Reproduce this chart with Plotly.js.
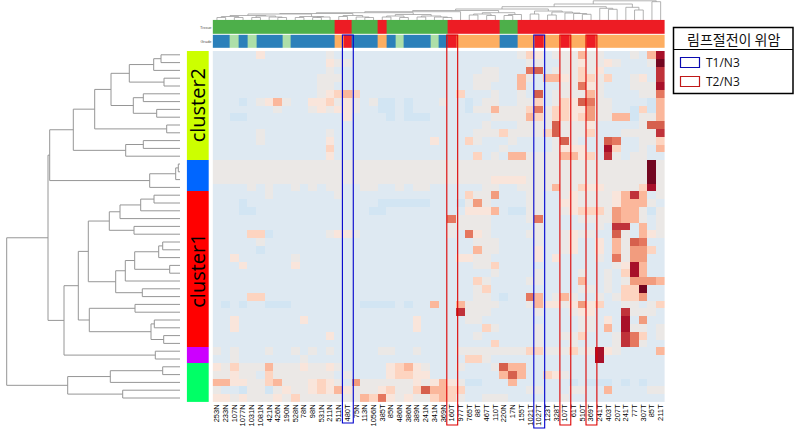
<!DOCTYPE html>
<html>
<head>
<meta charset="utf-8">
<script src="https://cdn.plot.ly/plotly-3.0.1.min.js"></script>
<style>html,body{margin:0;padding:0;background:#fff;overflow:hidden}</style>
</head>
<body>
<div id="chart" style="width:794px;height:430px"></div>
<script>
// Column (sample) labels
const sampleLabels = ["253N","233N","107N","1077N","1031N","1081N","421N","426N","190N","528N",
"78N","98N","531N","211N","511N","480T","75N","113N","1056N","385T",
"85N","486N","386N","389N","241N","341N","369N","160T","977T","765T",
"88T","467T","110T","220N","17N","155T","1021T","1027T","123T","328T",
"107T","61T","510T","369T","241T","403T","207T","241T","77T","307T","85T","211T"];

// Tissue / Grade annotation: 0 green, 1 red, 2 blue, 3 pale green, 4 orange
const tissueRow = [0,0,0,0,0,0,0,0,0,0, 0,0,0,0,1,1,0,0,0,1, 0,0,0,0,0,0,0,1,1,1, 1,1,1,0,0,1,1,1,1,1, 1,1,1,1,1,1,1,1,1,1, 1,1];
const gradeRow  = [2,2,3,2,3,2,2,2,3,2, 2,2,2,2,4,1,2,2,2,4, 2,3,2,2,2,3,2,1,4,4, 4,4,4,2,2,4,4,1,4,4, 1,4,4,1,4,4,4,4,4,4, 4,4];
const annotationLabels = ["Tissue","Grade"];
const annotationColors = ["#4daf4a","#ed1c24","#2b80ba","#addfa8","#fdae61"];

// Cluster side bar: 0 yellow, 1 blue, 2 red, 3 magenta, 4 green
const clusterIds = [0,0,0,0,0,0,0,0,0,0,0,0,0,0, 1,1,1,1,
 2,2,2,2,2,2,2,2,2,2,2,2,2,2,2,2,2,2,2,2, 3,3, 4,4,4,4,4];
const clusterColors = ["#ccff00","#0066ff","#ff0000","#cc00ff","#00ff66"];

// Heatmap levels, -2 (blue) .. 9 (dark red), one row per gene
const heatValues = [
[-1,-1,-1,-1,-1,1,-1,-1,-1,-1, -1,-1,-1,0,-1,-1,-1,-1,-1,-1, -1,-1,-1,-1,-1,-1,-1,-1,-1,-1, -1,-1,-1,-1,-1,0,2,1,-1,0, 0,0,3,0,0,-1,-1,-1,0,-1, 3,8],
[-1,-1,-1,-1,-1,-1,-1,-1,-1,-1, -1,-1,-1,1,0,0,-1,-1,-1,-1, -1,-1,-1,-1,-1,-1,-1,-1,-1,-1, -1,-1,-1,-1,-1,-1,0,0,-1,-1, 0,0,1,0,0,1,0,-1,-1,-1, 0,9],
[-1,-1,-1,-1,-1,-1,-1,-1,-1,-1, -1,-1,-1,0,-1,-1,-1,-1,-1,-1, -1,-1,-1,-1,-1,-1,-1,-1,-1,-1, -1,0,0,-1,-1,-1,5,6,-1,0, 0,0,2,0,1,-1,-1,-1,-1,-1, -1,7],
[-1,-1,-1,-1,-1,-1,-1,-1,-1,-1, -1,-1,0,0,0,-1,-1,-1,-1,-1, -1,-1,-1,-1,-1,-1,-1,-1,-1,-1, 0,0,0,-1,-1,3,0,-1,3,3, 1,0,2,2,0,2,-1,-1,0,1, -1,7],
[-1,-1,-1,-1,-1,-1,-1,-1,-1,-1, -1,-1,0,0,-1,-1,-1,-1,-1,-1, -1,-1,-1,-1,-1,-1,-1,-1,-1,-1, 0,0,-1,-1,-1,3,-1,-1,-1,-1, 0,0,5,1,0,-1,-1,-1,0,0, 0,8],
[-1,-1,-1,-1,-1,-1,-1,-1,-1,-1, -1,-1,0,1,2,3,2,-1,-1,-1, -1,-1,-1,-1,-1,-1,-1,-1,2,-1, -1,-1,0,-1,-1,0,-1,6,-1,0, 0,0,0,3,0,-1,-1,-1,-1,0, 0,5],
[-1,-1,-1,-2,-1,0,1,3,0,-1, -1,1,1,2,0,1,0,-1,0,-2, -2,-1,-2,-1,-1,-1,0,-1,-1,-2, -1,0,0,-1,-1,0,0,2,-1,0, 2,1,6,5,0,0,-1,-1,-1,-1, -2,3],
[-1,-1,-1,-1,-1,-1,-1,0,-1,-1, -1,0,1,0,1,1,0,-1,-1,-2, -2,-1,-2,-1,-1,-1,-1,-1,-1,-2, 0,0,3,0,0,0,2,5,0,2, 2,1,1,4,0,0,-1,-1,-2,2, -2,3],
[-1,-1,-2,-2,-1,-1,-1,-1,-1,-1, -1,-1,-1,-1,-1,1,-1,-1,-1,-1, -2,-1,-2,-2,-2,-1,-1,-1,-1,-1, -1,-1,0,0,0,0,3,2,0,2, 2,1,2,4,0,0,3,3,-2,0, 0,3],
[-1,-1,-1,-1,-1,-1,-1,-1,-1,-1, -1,-1,-1,-1,-1,-1,-1,-1,-1,-1, -1,-1,-1,-1,-1,-1,-1,-1,-1,-1, -1,0,-1,-1,-1,0,0,0,0,6, 0,0,0,1,-1,-1,-1,-1,-1,0, 6,6],
[-1,-1,-1,-1,-1,0,-1,-1,-1,-1, -1,-1,-1,0,-1,-1,-1,-1,-1,-1, -1,-1,-1,-1,-1,-1,-1,-1,-1,-1, 0,0,0,2,0,0,0,0,2,6, 0,0,0,2,-1,-1,-1,0,0,0, 0,7],
[-1,-1,-1,-1,-1,0,-1,-1,-1,-1, -1,-1,-1,1,-1,-1,-1,-1,-1,-1, -1,-1,-1,-1,-1,1,-1,-1,-1,2, 0,-1,-1,-1,0,-1,-1,-1,-1,0, 6,0,-1,-1,-1,6,5,-1,-1,0, 0,2],
[-1,-1,-1,-1,-1,-1,-1,-1,-1,-1, -1,-1,-1,2,-1,-1,-1,-1,-1,-1, -1,-1,-1,-1,-1,-1,-1,-1,-1,-1, -1,-1,-1,0,-1,-1,-1,-1,-1,0, 1,1,1,-1,-1,8,2,-1,-1,0, -1,3],
[-1,-1,-1,-1,-1,-1,-1,-1,-1,-1, -1,-1,-1,1,-1,-1,-1,-1,-1,-1, -1,-1,-1,-1,-1,-1,-1,-1,-1,-1, 2,-1,0,-1,3,3,0,0,0,0, 3,3,1,2,-1,7,0,-1,0,0, -1,-1],
[0,0,0,0,0,0,0,0,0,0, 0,0,0,0,0,0,0,0,0,0, 0,0,0,0,0,0,0,0,0,0, 0,0,0,0,0,0,0,0,0,0, 0,0,0,0,0,0,0,0,0,0, 9,0],
[0,0,0,0,0,0,0,0,0,0, 0,0,0,0,0,0,0,0,0,0, 0,0,0,0,0,0,0,0,0,0, 0,0,0,0,0,0,0,0,0,0, 0,0,0,0,0,0,0,0,0,0, 9,0],
[0,0,0,0,0,0,0,0,0,0, 0,0,0,0,0,0,0,0,0,0, 0,0,0,0,0,0,0,0,0,0, 0,0,1,1,1,1,0,0,0,0, 0,0,0,0,0,0,0,0,0,0, 9,0],
[-1,-1,-1,-1,0,-1,0,-1,-1,0, -1,0,-1,0,0,-1,-1,0,0,-1, -1,0,-1,0,0,-1,-1,-1,-1,-1, -1,0,0,-1,-1,0,0,0,0,3, 0,0,2,1,1,0,0,0,0,2, 8,0],
[-1,-1,-1,-1,-1,-1,0,-1,-1,-1, -1,-1,-1,-1,0,-1,-1,-1,-1,-1, -1,-1,-1,-1,-1,-1,-1,-1,-1,2, 0,0,4,-1,-1,-1,0,0,-1,-1, 0,1,0,0,0,0,1,3,7,3, -1,0],
[-1,-1,-1,-2,-1,-1,-1,-1,-1,-1, -1,-1,-1,-1,-1,-1,-1,-1,-1,-2, -2,-2,-2,-2,-2,-1,-1,-1,-2,0, 4,0,-1,-1,-1,-1,0,0,-1,-1, 1,1,0,0,0,0,1,3,3,3, 0,-1],
[-1,-1,-1,-2,-2,-1,-1,-1,-1,-1, -1,-1,-1,-1,-1,-1,-1,-1,-2,-2, -1,-1,-1,-1,-1,-1,-1,-1,-1,1, 1,1,3,-1,-2,-2,0,0,-1,-1, 0,1,2,2,2,0,4,3,3,0, -2,0],
[-1,-1,-1,-1,-1,-1,-1,-1,-1,-1, -1,-1,-1,-1,-1,-1,-1,-1,-1,-1, -1,-1,-1,-1,-1,-1,-1,5,0,0, 0,0,-1,-1,-1,-1,0,5,-1,-1, -1,-1,0,0,0,0,4,3,3,0, -1,0],
[-1,-1,-1,-1,-1,-1,-1,-1,-1,-1, -1,-1,-1,-1,-1,-1,-1,-1,-1,-1, -1,-1,-1,-1,-1,-1,-1,0,0,0, 0,0,-1,-1,-1,-1,-1,0,-1,-1, -1,-1,-1,-1,0,-1,7,7,-1,3, -1,0],
[-1,-1,-1,-1,2,2,-2,-1,-1,-1, -1,-1,-1,0,1,1,0,-1,-1,-1, -1,-1,-1,-1,-1,-1,-1,0,-1,5, 1,0,-1,-1,-1,-1,0,0,-1,-1, 0,1,0,0,-1,-1,6,0,-1,3, 1,0],
[-1,-1,-1,-1,-1,0,-1,-1,-1,-1, -1,-1,-1,-1,-1,-1,-1,-1,-1,-1, -1,-1,-1,-1,-1,-1,-1,-1,-1,-1, 0,0,0,-1,-1,-1,-1,0,-1,-1, 0,1,-1,-1,1,-1,3,0,6,5, -1,-1],
[-1,-1,-1,-1,-1,-2,-1,-1,-1,-1, -1,-1,-1,-1,-1,-1,-1,-1,-1,-1, -1,-1,-1,-1,-1,-1,-1,-1,-1,-1, 3,0,0,-1,-1,-1,-1,1,-1,-1, 0,1,-1,-1,1,-1,3,0,4,4, 2,-1],
[-1,-1,1,-1,-1,-1,-1,-1,-1,0, -1,-1,-1,-1,-1,-1,-1,-1,-1,-1, -1,-1,-1,-1,-1,-1,-1,-1,1,1, 0,0,-1,-1,-1,-1,-1,1,-1,1, -1,-1,-1,-1,0,-1,5,0,4,4, -1,-1],
[-1,-1,-1,1,-1,-1,-1,-1,-1,1, -1,-1,-1,-1,-1,-1,-1,-1,-1,-1, -1,-1,-1,-1,-1,-1,-1,-1,-1,-1, 0,0,2,-1,-1,-1,-1,-1,-1,-1, -1,-1,-1,-1,-1,-1,0,1,8,3, -1,-1],
[-1,-1,-1,-1,-1,-1,-1,-1,-1,-1, -1,-1,-1,-1,-1,-1,-1,-1,-1,-1, -1,-1,-1,-1,-1,-1,-1,-1,-1,-1, -1,-1,0,-1,-1,-1,-1,0,-1,-1, -1,-1,0,-1,-1,0,-1,2,8,3, -1,-1],
[-1,-1,-1,-1,-1,-1,-1,-1,-1,-1, -1,-1,-1,-1,-1,-1,-1,-1,-1,-1, -1,-1,-1,-1,-1,-1,-1,-1,-1,-1, 2,0,-1,-1,-1,-1,0,0,-1,-1, -1,-1,3,-1,-1,0,-1,0,4,4, 4,3],
[-1,-1,-1,-1,-1,-1,-1,-1,-1,-1, -1,-1,-1,-1,-1,-1,-1,-1,-1,-1, -1,-1,-1,-1,-1,-1,-1,-1,-1,-1, 0,2,-1,-1,-1,-1,-1,-1,-1,-1, -1,-1,0,0,-1,0,-1,2,2,9, -1,-1],
[-1,-1,-1,-1,2,2,-1,-1,-1,-1, -1,-1,-1,-1,-1,-1,-1,-1,-1,-1, -1,-1,-1,-1,-1,-1,-1,-1,-1,-1, 0,0,-1,-2,-1,-1,5,3,-1,0, 3,0,-1,-1,0,-1,0,2,2,4, -1,-1],
[-1,-2,-1,-2,-1,-1,-2,-2,-2,-1, -1,-1,-1,-1,-1,-1,-1,-2,-2,-2, -2,-1,-2,-1,-1,3,-1,-1,3,0, 0,0,0,-1,-1,-1,0,3,1,1, 0,1,4,1,2,-1,-1,0,0,-1, 0,2],
[-1,-1,-1,-1,-1,-1,-1,-1,-1,-1, -1,-1,-1,-1,-1,-1,-1,-1,-1,-1, -1,-1,-1,-1,-1,-1,-1,-1,7,0, 0,0,-1,-1,-1,-1,-1,0,-1,-1, -1,0,1,1,-1,-1,-1,7,0,0, 0,-1],
[-1,-1,1,-1,-1,-1,-1,-1,-1,-1, 1,-1,-1,-1,-1,-1,-1,-1,-1,-1, -1,-1,-1,1,-1,-1,-1,-1,-1,0, 0,-1,-1,-1,-1,-1,-1,-1,-1,-1, -1,-1,0,0,-1,1,-1,8,-1,4, -1,-1],
[-1,-1,1,-1,-1,-1,-1,-1,-1,-1, -1,-1,-1,-1,-1,-1,-1,-1,-1,-1, -1,-1,-1,1,-1,-1,-1,-1,-1,-1, -1,2,0,-1,-1,-1,-1,0,-1,-1, -1,-1,0,0,-1,3,-1,8,0,0, -1,0],
[-1,-1,-1,-1,-1,-1,-1,-1,-1,-1, -1,-1,-1,1,-1,-1,-1,-1,-1,-1, -1,-1,-1,-1,-1,-1,-1,-1,-1,-1, 0,-1,-1,-1,-1,-1,-1,0,-1,-1, 0,0,2,-1,-1,-1,0,7,5,2, -1,0],
[-1,-1,-1,-1,-1,-1,-1,-1,-1,-1, -1,-1,-1,-1,-1,-1,-1,-1,-1,-1, -1,-1,-1,-1,-1,-1,-1,-1,-1,-1, -1,-1,2,-1,-1,-1,-1,0,-1,-1, -1,0,-1,-1,-1,-1,0,7,5,0, -1,-1],
[0,-1,0,-1,-1,-1,0,-1,-1,0, -1,0,-1,0,-1,-1,-1,-1,-1,0, 0,-1,-1,0,-1,-1,-1,-1,0,0, 0,0,0,0,0,0,2,2,0,0, 0,2,0,0,8,1,0,-1,-1,-1, -1,3],
[-1,-1,0,-1,-1,-1,-1,-1,-1,-1, 0,-1,-1,-1,-1,-1,-1,-1,-1,-1, -1,-1,-1,-1,-1,-1,-1,-1,-1,2, 2,0,-1,-1,-1,-1,-1,-1,-1,-1, -1,-1,-1,-1,8,-1,-1,-1,-1,-1, -1,-1],
[1,0,2,0,0,0,3,0,0,0, 1,0,0,1,0,-1,-1,-1,-1,-1, 1,2,3,1,0,-1,-1,-1,0,-1, -1,-1,0,6,3,3,-1,-1,-1,-1, -1,-1,-1,-1,-1,-1,-1,-1,-1,-1, -1,-1],
[0,0,1,0,0,-1,2,0,0,0, 0,0,0,0,-1,0,-1,-1,-1,-1, 1,2,2,1,1,-1,-1,-1,-1,-1, -1,-1,-1,3,6,3,-1,-1,2,1, 0,-1,-1,-1,-1,-1,-1,-1,-1,-1, -1,-1],
[3,3,1,1,0,0,2,3,0,0, 0,1,2,1,0,-1,4,0,0,0, 0,0,0,1,0,1,3,1,0,-2, -2,-1,-1,-1,3,-1,-1,-1,-1,-1, -1,-2,-1,-2,-2,-2,-1,-2,-1,-2, -1,-1],
[0,-1,-1,-2,0,0,-2,0,1,0, 0,1,2,1,3,1,0,0,0,1, 2,0,0,2,6,3,3,2,2,-1, -1,-1,-1,-1,-1,-1,0,0,-1,-1, -1,0,0,-1,-1,3,-1,-1,-1,-1, 0,0],
[1,1,0,1,0,0,0,1,0,2, 0,0,0,0,0,0,0,3,2,5, 1,0,1,0,0,2,3,2,0,-1, -1,0,0,0,-1,-1,-1,-1,-1,-1, 0,-1,-1,-1,-1,-1,-1,-1,-1,-1, -1,-1]
];
const heatLevels = [-2,-1,0,1,2,3,4,5,6,7,8,9];
const heatColors = ["#d2e5f3","#dee9f2","#ebe8e6","#f9e5db","#fdd4c0","#fbb79b","#f29c7e","#e5775f","#d6604d","#c0323a","#a81029","#730620"];

// Row dendrogram: [left, right, merge position]; integers are leaves
const yellowTree = [[[[[[0,1,161],2,153.7],[3,4,164],129.3],[[5,6,143.3],[7,8,156.7],133.3],111],[9,10,166.7],94.7],[[11,12,143.3],13,125.7],73.3];
const blueTree = [[[14,15,178.3],16,175.7],17,149.7];
const redTreeA = [[[[18,19,154],20,140.7],21,120],[22,23,134],109.3];
const redTreeB = [[[[[24,25,162.7],26,158.7],[27,28,169.7],134.7],29,125.3],[30,31,142.3],115.7];
const redTreeC = [[32,33,135],[[34,35,154.3],[36,37,163.7],151],89.3];
const magentaTree = [38,39,155.3];
const greenTree = [[[40,41,162.7],42,110.3],[43,44,122.7],67.7];
const rowTree = [[[yellowTree,blueTree,49.7],[[[redTreeA,redTreeB,88.3],redTreeC,78.3],magentaTree,64],48],greenTree,6.7];
const rowTipValue = 180;

// Column dendrogram
const colLeft1 = [[[[[0,1,17.5],[2,3,17.5],16.5],[[4,5,17.5],[6,[7,8,17.5],17],16],15.5],[[9,10,17.5],[[11,12,17.5],13,17],16.5],14],[[14,15,16.5],[16,[17,18,17.5],17],15.5],13.5];
const colLeft2 = [[[19,20,17],[21,22,17.5],16],[[23,24,17],[25,[26,27,17.5],17],16],14.5];
const colMid = [[[29,30,15],[31,32,15.5],14],[[33,34,15.5],35,14.5],12.7];
const colCore = [[36,37,14],[[38,39,15],[40,[41,[42,43,14.3],13.5],13],12],11];
const colRightA = [44,[45,46,9.3],8.3];
const colRightB = [47,[48,49,10],7.3];
const colLastPair = [50,51,1.7];
const colTree = [[[[[[[colLeft1,colLeft2,12.7],28,11.7],colMid,10.5],colCore,9],colRightA,6.7],colRightB,4],colLastPair,0.8];
const colTipValue = 20;

// Highlighted columns
const highlightColumns = [15,27,37,40,43];
const highlightColors = ["#0000cc","#dd0000","#0000cc","#dd0000","#dd0000"];
const highlightBottoms = [423,425,428,425,425];

const legendTitle = "림프절전이 위암";
const legendItems = ["T1/N3","T2/N3"];
const legendColors = ["#0a0ab0","#c01818"];
const clusterTextLabels = [["cluster2",6.5],["cluster1",27.7]];

const W=794,H=430;
const px=v=>v/W, py=v=>1-v/H;

function walk(node,tip,segs){
  if(typeof node==="number") return {pos:node,val:tip};
  const a=walk(node[0],tip,segs), b=walk(node[1],tip,segs), h=node[2];
  segs.push([a.pos,a.val,a.pos,h],[a.pos,h,b.pos,h],[b.pos,h,b.pos,b.val]);
  return {pos:(a.pos+b.pos)/2,val:h};
}
function treeLines(tree,tip){
  const segs=[];walk(tree,tip,segs);
  const along=[],across=[];
  segs.forEach(s=>{along.push(s[0],s[2],null);across.push(s[1],s[3],null);});
  return {along,across};
}
function discreteScale(cols){
  const n=cols.length,out=[];
  cols.forEach((c,i)=>{out.push([i/n,c],[(i+1)/n,c]);});
  return out;
}
const levelScale = heatLevels.map((l,i)=>[(l-heatLevels[0])/(heatLevels[heatLevels.length-1]-heatLevels[0]),heatColors[i]]);
const rowLines=treeLines(rowTree,rowTipValue), colLines=treeLines(colTree,colTipValue);
const indices=sampleLabels.map((_,i)=>i);

const traces=[
 {type:"heatmap",z:heatValues,x:indices,y:heatValues.map((_,i)=>i),xaxis:"x",yaxis:"y",colorscale:levelScale,zmin:-2,zmax:9,showscale:false,hoverinfo:"skip"},
 {type:"heatmap",z:[tissueRow,gradeRow],x:indices,y:[0,1],xaxis:"x2",yaxis:"y2",colorscale:discreteScale(annotationColors),zmin:-0.5,zmax:4.5,showscale:false,ygap:1,hoverinfo:"skip"},
 {type:"heatmap",z:clusterIds.map(c=>[c]),x:[0],y:clusterIds.map((_,i)=>i),xaxis:"x3",yaxis:"y",colorscale:discreteScale(clusterColors),zmin:-0.5,zmax:4.5,showscale:false,hoverinfo:"skip"},
 {type:"scatter",mode:"lines",x:rowLines.across,y:rowLines.along,xaxis:"x4",yaxis:"y",line:{color:"#969696",width:1},connectgaps:false,hoverinfo:"skip",showlegend:false},
 {type:"scatter",mode:"lines",x:colLines.along,y:colLines.across,xaxis:"x",yaxis:"y3",line:{color:"#a0a0a0",width:0.8},connectgaps:false,hoverinfo:"skip",showlegend:false}
];

const shapes=highlightColumns.map((c,i)=>({type:"rect",xref:"x",yref:"paper",x0:c-0.58,x1:c+0.67,y0:py(highlightBottoms[i]),y1:py(35),line:{color:highlightColors[i],width:1.1},fillcolor:"rgba(0,0,0,0)",layer:"above"}));
shapes.push({type:"rect",xref:"paper",yref:"paper",x0:px(673.5),x1:px(793),y0:py(93.5),y1:py(27.5),line:{color:"#000",width:1.5}});
shapes.push({type:"line",xref:"paper",yref:"paper",x0:px(673.5),x1:px(793),y0:py(49.5),y1:py(49.5),line:{color:"#000",width:1.2}});
legendItems.forEach((t,i)=>{
  const top=[57.5,76.5][i];
  shapes.push({type:"rect",xref:"paper",yref:"paper",x0:px(680.5),x1:px(699.5),y0:py(top+10),y1:py(top),line:{color:legendColors[i],width:1.2}});
});

const annotations=[
 {xref:"paper",yref:"paper",x:px(733),y:py(39),text:legendTitle,showarrow:false,font:{family:"Noto Sans CJK KR",size:14,color:"#111"},xanchor:"center",yanchor:"middle"},
 ...legendItems.map((t,i)=>({xref:"paper",yref:"paper",x:px(704),y:py([62,81.5][i]),text:t,showarrow:false,font:{family:"Open Sans",size:12,color:"#111"},xanchor:"left",yanchor:"middle"})),
 ...clusterTextLabels.map(c=>({xref:"x3",yref:"y",x:0,y:c[1],text:c[0],textangle:-90,showarrow:false,font:{family:"Open Sans",size:20,color:"#000"},xanchor:"center",yanchor:"middle"}))
];

const hidden={showgrid:false,zeroline:false,showticklabels:false,ticks:"",showline:false,fixedrange:true};
const rows=heatValues.length,cols=sampleLabels.length;
const layout={
 width:W,height:H,autosize:false,margin:{l:0,r:0,t:0,b:0},paper_bgcolor:"#fff",plot_bgcolor:"rgba(0,0,0,0)",showlegend:false,
 xaxis:{...hidden,domain:[px(212.6),px(665)],range:[-0.5,cols-0.5],anchor:"y",tickmode:"array",tickvals:indices,ticktext:sampleLabels,showticklabels:true,tickangle:-90,tickfont:{family:"Liberation Sans",size:7.5,color:"#000"},ticklen:0,automargin:false},
 yaxis:{...hidden,domain:[py(401.9),py(50.9)],range:[rows-0.5,-0.5],anchor:"x"},
 xaxis2:{...hidden,domain:[px(212.6),px(665)],range:[-0.5,cols-0.5],anchor:"y2"},
 yaxis2:{...hidden,domain:[py(49),py(19.8)],range:[1.5,-0.5],anchor:"x2",tickmode:"array",tickvals:[0,1],ticktext:annotationLabels,showticklabels:true,tickfont:{family:"Liberation Sans",size:4,color:"#555"},ticklen:0,automargin:false},
 xaxis3:{...hidden,domain:[px(186.7),px(209)],range:[-0.5,0.5],anchor:"y"},
 xaxis4:{...hidden,domain:[0,px(180)],range:[0,180],anchor:"y"},
 yaxis3:{...hidden,domain:[py(20),1],range:[20,0],anchor:"x"},
 shapes,annotations
};
Plotly.newPlot("chart",traces,layout,{displayModeBar:false,staticPlot:true});
</script>
</body>
</html>
